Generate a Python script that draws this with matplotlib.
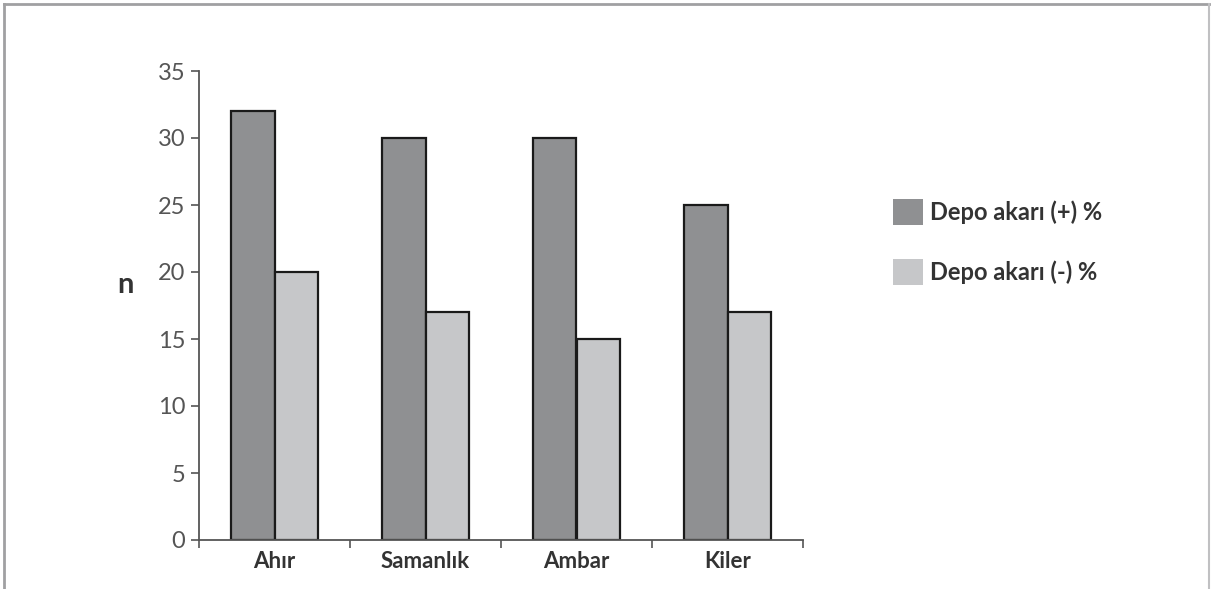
import numpy as np
import matplotlib.pyplot as plt
from matplotlib.lines import Line2D
from matplotlib.patches import Patch

categories = ['Ahır', 'Samanlık', 'Ambar', 'Kiler']
depo_pos = [32, 30, 30, 25]
depo_neg = [20, 17, 15, 17]
labels = ['Depo akarı (+) %', 'Depo akarı (-) %']
yticks = [0, 5, 10, 15, 20, 25, 30, 35]

dark = '#8f9092'
light = '#c6c7c9'

plt.rcParams['font.family'] = ['Lato', 'DejaVu Sans']

fig = plt.figure(figsize=(12.11, 5.89), dpi=100)
ax = fig.add_axes([199 / 1211, 49 / 589, 604 / 1211, 469 / 589])

x = np.arange(len(categories))
w = 0.285
ax.bar(x - w / 2, depo_pos, w, color=dark, edgecolor='#1a1a1a', linewidth=1.6)
ax.bar(x + w / 2, depo_neg, w, color=light, edgecolor='#1a1a1a', linewidth=1.6)

ax.set_xlim(-0.5, len(categories) - 0.5)
ax.set_ylim(0, 35)
ax.set_yticks(yticks)
ax.set_xticks(x)
ax.set_xticklabels(categories, fontsize=16, fontweight='bold', color='#333333')
ax.set_xticks(np.arange(len(categories) + 1) - 0.5, minor=True)
ax.tick_params(axis='x', which='major', length=0, pad=8)
ax.tick_params(axis='x', which='minor', length=6, width=1.2, color='#555555', direction='out')
ax.tick_params(axis='y', length=6, width=1.2, color='#555555', labelsize=17,
               labelcolor='#555555', pad=4)
for s in ['top', 'right']:
    ax.spines[s].set_visible(False)
for s in ['left', 'bottom']:
    ax.spines[s].set_color('#555555')
    ax.spines[s].set_linewidth(1.3)

fig.text(125 / 1211, 1 - 285 / 589, 'n', fontsize=21, fontweight='bold',
         color='#333333', ha='center', va='center')

handles = [Patch(facecolor=dark, edgecolor='none'), Patch(facecolor=light, edgecolor='none')]
fig.legend(handles, labels, loc='upper left', bbox_to_anchor=(872 / 1211, 1 - 178 / 589),
           frameon=False, prop={'size': 17, 'weight': 'bold'}, labelcolor='#333333',
           handlelength=1.27, handleheight=1.27, handletextpad=0.3, labelspacing=1.48)

# outer frame of the figure
fig.add_artist(Line2D([4 / 1211, 4 / 1211], [0, 1 - 4 / 589], transform=fig.transFigure,
                      color='#a0a0a2', linewidth=2))
fig.add_artist(Line2D([4 / 1211, 1209 / 1211], [1 - 4 / 589, 1 - 4 / 589],
                      transform=fig.transFigure, color='#a0a0a2', linewidth=2))
fig.add_artist(Line2D([1209 / 1211, 1209 / 1211], [0, 1 - 4 / 589], transform=fig.transFigure,
                      color='#c0c0c2', linewidth=1.5))

fig.savefig('out.png', dpi=100)
